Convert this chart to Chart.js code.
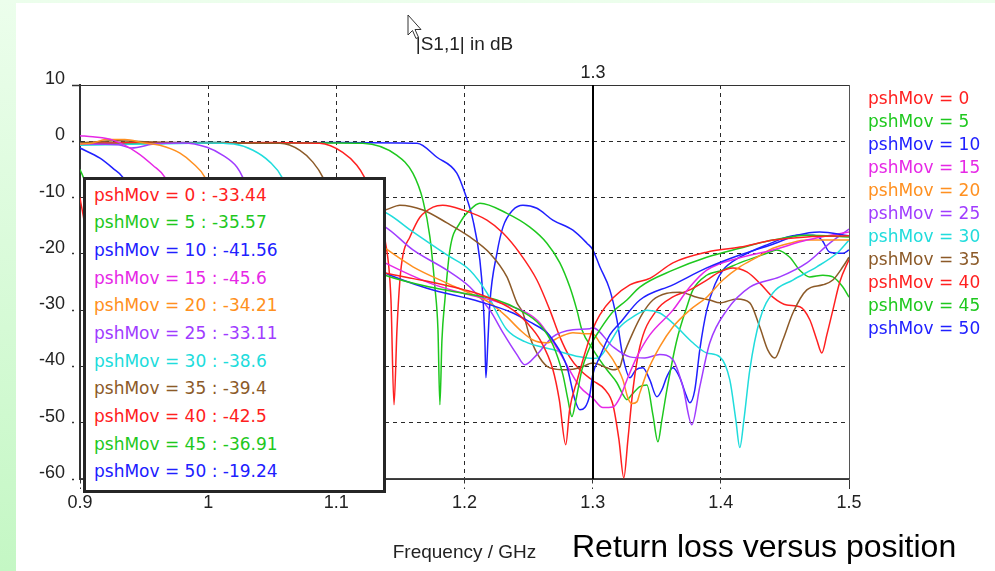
<!DOCTYPE html>
<html>
<head>
<meta charset="utf-8">
<script src="https://cdn.jsdelivr.net/npm/chart.js@4.4.1/dist/chart.umd.min.js"></script>
<style>
html,body{margin:0;padding:0;}
body{width:995px;height:571px;overflow:hidden;position:relative;background:linear-gradient(180deg,#ecfeec 0%,#c4f7c4 100%);}
#sheet{position:absolute;left:16px;top:3px;width:979px;height:568px;background:#fff;}
#c{position:absolute;left:0;top:0;}
#vals{position:absolute;left:83px;top:177px;width:303px;height:316px;box-sizing:border-box;border:3px solid #262626;background:#fff;padding:1.5px 0 0 8px;font-family:"DejaVu Sans";font-size:17px;}
#vals div{height:27.7px;line-height:27.7px;white-space:nowrap;}
#caption{position:absolute;left:572px;top:530px;font-family:"Liberation Sans";font-size:32px;line-height:32px;color:#000;white-space:nowrap;}
#pointer{position:absolute;left:407px;top:14px;}
</style>
</head>
<body>
<div id="sheet"></div>
<canvas id="c" width="995" height="571"></canvas>
<div id="vals"></div>
<div id="caption">Return loss versus position</div>
<svg id="pointer" width="16" height="28" viewBox="0 0 16 28"><path d="M1 1 L1 21 L5.5 16.5 L9 24.5 L11.5 23.3 L8 15.5 L14 15.5 Z" fill="#fff" stroke="#333" stroke-width="1"/></svg>
<script>
// ---------- data ----------
const chartTitle = '|S1,1| in dB';
const xTitle = 'Frequency / GHz';
const pshMov = [0, 5, 10, 15, 20, 25, 30, 35, 40, 45, 50];
const cursorFreq = 1.3;
const cursorLabel = '1.3';
const cursorValues = ['-33.44', '-35.57', '-41.56', '-45.6', '-34.21', '-33.11', '-38.6', '-39.4', '-42.5', '-36.91', '-19.24'];
const xTickValues = [0.9, 1.0, 1.1, 1.2, 1.3, 1.4, 1.5];
const xTickLabels = ['0.9', '1', '1.1', '1.2', '1.3', '1.4', '1.5'];
const yTickValues = [-60, -50, -40, -30, -20, -10, 0, 10];
const yTickLabels = ['-60', '-50', '-40', '-30', '-20', '-10', '0', '10'];

const freq_0 = [0.9, 0.905, 0.91, 0.915, 0.93, 0.96, 1.0, 1.05, 1.1, 1.138, 1.16, 1.18, 1.2, 1.218, 1.238, 1.249, 1.259, 1.269, 1.274, 1.279, 1.282, 1.288, 1.2955, 1.3, 1.3056, 1.316, 1.329, 1.345, 1.3626, 1.389, 1.415, 1.441, 1.467, 1.5];
const s11_0 = [-10, -18, -40, -18, -12, -11.5, -14, -18, -21.5, -23.4, -24.4, -25.3, -26.4, -27.7, -30, -32.3, -35.3, -40.6, -46, -53.9, -47.7, -42.4, -36.5, -33.44, -30.85, -27.8, -25.5, -24.3, -21.6, -19.7, -18.8, -17.55, -17.0, -16.8];

const freq_5 = [0.9, 0.905, 0.915, 0.925, 0.935, 0.95, 0.98, 1.02, 1.07, 1.1, 1.138, 1.173, 1.1988, 1.2253, 1.2432, 1.2588, 1.269, 1.2768, 1.2807, 1.2838, 1.287, 1.2916, 1.2963, 1.3, 1.3056, 1.3158, 1.3267, 1.3368, 1.3626, 1.389, 1.4148, 1.4406, 1.4671, 1.5];
const s11_5 = [-5, -8, -20, -45, -20, -13, -11.5, -13, -17, -20, -23.8, -25.9, -27, -28.2, -30, -32.6, -36.2, -41.5, -45.9, -48.9, -45.9, -40.6, -37.4, -35.57, -33.5, -30.3, -28.2, -25.9, -22.9, -20.6, -19, -17.55, -16.7, -17];

const freq_10 = [0.9, 0.9156, 0.9257, 0.9335, 0.945, 0.955, 0.96, 0.965, 0.98, 1.01, 1.05, 1.1, 1.138, 1.1707, 1.212, 1.2378, 1.251, 1.2643, 1.2689, 1.28, 1.2861, 1.29, 1.2939, 1.2978, 1.3, 1.3056, 1.3134, 1.3212, 1.3368, 1.3626, 1.389, 1.4148, 1.4406, 1.4593, 1.4772, 1.5];
const s11_10 = [-1.2, -3, -4.8, -6.4, -12, -25, -42, -25, -14, -12, -14, -19, -23.4, -26.1, -28.5, -30.5, -32.1, -34, -35.3, -40.1, -45.9, -47.7, -47.3, -45, -41.56, -38.3, -34.4, -32.3, -28.2, -25.5, -22.5, -20.2, -18.3, -16.7, -16.1, -16.8];

const freq_15 = [0.9, 0.91, 0.9257, 0.9445, 0.957, 0.9663, 0.975, 0.983, 0.99, 0.995, 1.01, 1.04, 1.08, 1.138, 1.173, 1.1988, 1.2253, 1.2487, 1.2588, 1.2744, 1.29, 1.3, 1.308, 1.3158, 1.3212, 1.3267, 1.3345, 1.3446, 1.3626, 1.3758, 1.389, 1.4148, 1.4406, 1.4671, 1.5];
const s11_15 = [1.0, 0.8, 0.2, -2, -4.3, -6.4, -11, -22, -44, -24, -14, -12, -14.5, -21.6, -25.2, -27, -28.5, -30.5, -32.3, -37.6, -43.6, -45.6, -47.3, -47.2, -45.6, -42.4, -38.3, -34.4, -30, -25.9, -22.9, -20.7, -19.3, -17.55, -16.1];

const freq_20 = [0.9, 0.91, 0.92, 0.935, 0.95, 0.9624, 0.978, 0.988, 0.9975, 1.005, 1.012, 1.018, 1.024, 1.04, 1.07, 1.1, 1.138, 1.1598, 1.1863, 1.2042, 1.2198, 1.2331, 1.2432, 1.2534, 1.2643, 1.2744, 1.2846, 1.2955, 1.3, 1.3056, 1.3158, 1.3236, 1.3275, 1.3306, 1.3345, 1.3368, 1.3423, 1.3524, 1.3626, 1.3758, 1.389, 1.4016, 1.4148, 1.4281, 1.4406, 1.4538, 1.4671, 1.5];
const s11_20 = [-0.5, -0.3, 0.3, 0.3, -0.3, -0.7, -2.1, -3.9, -6.4, -11, -22, -43, -22, -13, -11.5, -13, -19, -22.3, -25.2, -27, -28.7, -31.2, -33.5, -35.3, -35.8, -34.75, -34, -34.2, -34.21, -35.8, -38.8, -42.4, -45.6, -46.6, -46.3, -44.7, -41.1, -36.5, -33, -30, -27.7, -24.65, -22.3, -20.6, -19, -18.1, -17.55, -17.55];

const freq_25 = [0.9, 0.93, 0.94, 0.96, 0.98, 0.999, 1.0115, 1.0225, 1.027, 1.035, 1.042, 1.048, 1.054, 1.07, 1.1, 1.138, 1.1598, 1.1863, 1.2042, 1.2198, 1.23, 1.2409, 1.2471, 1.2565, 1.2689, 1.2846, 1.2978, 1.3, 1.3158, 1.329, 1.3407, 1.3524, 1.3626, 1.3704, 1.3774, 1.3836, 1.3914, 1.4047, 1.4226, 1.446, 1.4671, 1.485, 1.5];
const s11_25 = [-0.5, -0.6, -1.2, -0.4, -0.3, -1.06, -2.5, -4.6, -6.4, -11, -22, -44, -22, -12.5, -12, -15.2, -19.3, -22.9, -25.9, -30, -34, -37.9, -39.7, -37.9, -34.75, -33.5, -33.3, -33.11, -36.5, -38.3, -38.5, -37.9, -38.8, -43.6, -50.35, -43.6, -35.8, -30, -25.9, -24.1, -21.6, -18.1, -15.6];

const freq_30 = [0.9, 0.95, 1.0, 1.02, 1.035, 1.0482, 1.0576, 1.065, 1.072, 1.078, 1.084, 1.1, 1.12, 1.138, 1.1598, 1.1863, 1.2042, 1.2175, 1.2253, 1.2331, 1.2471, 1.2689, 1.29, 1.3, 1.3056, 1.3134, 1.3212, 1.3314, 1.3423, 1.3524, 1.3626, 1.3782, 1.389, 1.3992, 1.407, 1.4117, 1.4148, 1.418, 1.4226, 1.4304, 1.4406, 1.4562, 1.4749, 1.4905, 1.5];
const s11_30 = [-0.7, -0.5, -0.3, -0.5, -1.6, -3.7, -6.4, -11, -22, -44, -22, -13, -11.5, -12.6, -16.1, -20.2, -22.9, -26.95, -30.5, -33.5, -35.6, -37, -38.3, -38.6, -38.3, -35.8, -33, -31.2, -30, -30.5, -32.3, -35.8, -37.6, -38.3, -42.4, -49.5, -54.4, -49.5, -40.6, -31.7, -26.95, -24.65, -22.3, -19.9, -17.55];

const freq_35 = [0.9, 0.93, 0.95, 1.0, 1.056, 1.0716, 1.0817, 1.0895, 1.097, 1.103, 1.108, 1.113, 1.125, 1.138, 1.1496, 1.1676, 1.1863, 1.2042, 1.2198, 1.2331, 1.2409, 1.2456, 1.251, 1.2588, 1.2666, 1.28, 1.29, 1.3, 1.3111, 1.3158, 1.3212, 1.3236, 1.3314, 1.3392, 1.347, 1.3579, 1.368, 1.3813, 1.3914, 1.3992, 1.4125, 1.4226, 1.4304, 1.4367, 1.4421, 1.4484, 1.4562, 1.4671, 1.4796, 1.4874, 1.4952, 1.5];
const s11_35 = [-0.3, 0.1, -0.1, -0.3, -0.35, -1.6, -3.7, -6.4, -11, -22, -44, -22, -13, -12.2, -11.35, -12.2, -14.5, -17, -19.9, -24.1, -28.7, -30.5, -34.75, -38.5, -40.25, -40.6, -40.25, -39.4, -40.25, -40.6, -40.1, -38.3, -34, -30.5, -28.2, -27, -26.8, -27.7, -28.2, -28.7, -28, -28.7, -33, -37.1, -38.5, -35.3, -30.5, -26.4, -25.5, -24.65, -22.3, -20.6];

const freq_40 = [0.9, 0.95, 1.0, 1.05, 1.075, 1.087, 1.105, 1.116, 1.122, 1.13, 1.138, 1.1426, 1.145, 1.1473, 1.1496, 1.152, 1.1574, 1.1652, 1.1754, 1.183, 1.1988, 1.2175, 1.23, 1.2432, 1.2565, 1.2666, 1.2744, 1.282, 1.29, 1.3, 1.3095, 1.3158, 1.3205, 1.3243, 1.3275, 1.3314, 1.3368, 1.35, 1.3626, 1.3758, 1.389, 1.3992, 1.4094, 1.4203, 1.4304, 1.4406, 1.4515, 1.4616, 1.4694, 1.4749, 1.4788, 1.4827, 1.4874, 1.4928, 1.5];
const s11_40 = [-0.4, -0.2, -0.3, -0.2, -0.3, -0.35, -1.95, -4.26, -6.4, -10.5, -17.5, -28, -46.8, -33.5, -24.7, -20.2, -17, -13.5, -11.7, -11.35, -12.2, -14, -16.3, -19.9, -24.65, -30, -34.75, -38.3, -40.6, -42.5, -44.1, -46.8, -53, -59.8, -53, -44.15, -36.5, -30, -27.66, -26.4, -24.65, -23.2, -22.5, -23.2, -25.2, -27.7, -29.1, -29.4, -31.7, -35.3, -37.6, -34.4, -30, -25, -21];

const freq_45 = [0.9, 0.95, 1.0, 1.05, 1.1, 1.1207, 1.1473, 1.1598, 1.1676, 1.173, 1.1769, 1.1793, 1.1808, 1.1824, 1.1847, 1.1886, 1.1964, 1.2042, 1.212, 1.2331, 1.251, 1.2643, 1.2744, 1.2822, 1.2877, 1.2916, 1.3, 1.3111, 1.3189, 1.3236, 1.3267, 1.3306, 1.3368, 1.3423, 1.347, 1.3509, 1.354, 1.3579, 1.3657, 1.3735, 1.3782, 1.389, 1.4016, 1.4148, 1.4359, 1.4437, 1.4538, 1.4616, 1.4694, 1.4796, 1.4874, 1.4952, 1.5];
const s11_45 = [-0.3, -0.4, -0.2, -0.3, -0.3, -0.35, -2.5, -5.7, -10.5, -17, -25.9, -33.5, -46.8, -35.3, -28.2, -19.3, -14.5, -12.2, -11, -12.8, -15.25, -18.1, -21.6, -25.9, -30, -33.5, -36.91, -40.6, -42.9, -45, -45.9, -45, -43.6, -43.3, -48.6, -53.4, -49.5, -44.15, -35.3, -29.4, -26.4, -23.8, -22.9, -21.6, -19.9, -19.3, -20.6, -22.9, -24.1, -23.8, -24.1, -25.9, -27.7];

const freq_50 = [0.9, 0.95, 1.0, 1.05, 1.1, 1.15, 1.163, 1.1785, 1.194, 1.2003, 1.2066, 1.212, 1.2144, 1.2159, 1.2167, 1.2183, 1.2198, 1.2253, 1.23, 1.2378, 1.2456, 1.2565, 1.2689, 1.2846, 1.2955, 1.3, 1.3056, 1.3134, 1.3189, 1.3236, 1.329, 1.3337, 1.3392, 1.3446, 1.3501, 1.354, 1.3579, 1.3626, 1.368, 1.3727, 1.3758, 1.3797, 1.3836, 1.389, 1.3953, 1.4016, 1.4148, 1.4359, 1.4593, 1.4718, 1.4788, 1.485, 1.4952, 1.5];
const s11_50 = [-0.4, -0.3, -0.2, -0.3, -0.2, -0.3, -0.35, -2.84, -5.67, -9.2, -14, -21.1, -27.7, -35.3, -42, -35.3, -28.7, -19.9, -15.25, -12.2, -11.35, -11.9, -14, -15.8, -18.1, -19.24, -22.3, -26.4, -31.7, -38.3, -42, -40.6, -40.25, -42.4, -45.4, -44.15, -41.8, -40.25, -42, -45, -46.45, -44.15, -37, -30, -25.5, -22.9, -20.6, -18.4, -16.7, -16.7, -17.55, -19.7, -19.9, -19.3];

// ---------- styles ----------
const seriesColors = ['#ff2020', '#1ec81e', '#2020ff', '#e628e6', '#ff9020', '#a03cff', '#20dcdc', '#8c5a28', '#ff2020', '#1ec81e', '#2020ff'];
const FONT_TICK = {family: 'Liberation Sans', size: 18};
const FONT_LEG = {family: 'DejaVu Sans', size: 17};

const freqs = [freq_0, freq_5, freq_10, freq_15, freq_20, freq_25, freq_30, freq_35, freq_40, freq_45, freq_50];
const values = [s11_0, s11_5, s11_10, s11_15, s11_20, s11_25, s11_30, s11_35, s11_40, s11_45, s11_50];
const labels = pshMov.map(p => 'pshMov = ' + p);

// inner value box (cursor readout)
const box = document.getElementById('vals');
pshMov.forEach((p, i) => {
  const d = document.createElement('div');
  d.textContent = 'pshMov = ' + p + ' : ' + cursorValues[i];
  d.style.color = seriesColors[i];
  box.appendChild(d);
});

// legend width -> right padding so plot right edge lands at 849
const mctx = document.createElement('canvas').getContext('2d');
mctx.font = FONT_LEG.size + 'px "' + FONT_LEG.family + '"';
const maxW = Math.max(...labels.map(t => mctx.measureText(t).width));
const LEG_PAD = 3, LEG_BOXW = 7.5;
const legendW = LEG_PAD + LEG_BOXW + FONT_LEG.size / 2 + maxW + 10;
const padRight = Math.max(0, 995 - 849 - legendW);

const near = (a, b) => Math.abs(a - b) < 1e-6;

const cursorPlugin = {
  id: 'cursorLine',
  afterDatasetsDraw(chart) {
    const {ctx, chartArea, scales} = chart;
    const px = Math.round(scales.x.getPixelForValue(cursorFreq));
    ctx.save();
    ctx.strokeStyle = '#000';
    ctx.lineWidth = 2;
    ctx.beginPath();
    ctx.moveTo(px, chartArea.top);
    ctx.lineTo(px, chartArea.bottom);
    ctx.stroke();
    ctx.fillStyle = '#222';
    ctx.font = FONT_TICK.size + 'px "' + FONT_TICK.family + '"';
    ctx.textAlign = 'center';
    ctx.textBaseline = 'middle';
    ctx.fillText(cursorLabel, px, chartArea.top - 12);
    ctx.restore();
  }
};

new Chart(document.getElementById('c').getContext('2d'), {
  type: 'line',
  data: {
    datasets: values.map((v, i) => ({
      label: labels[i],
      data: v.map((y, j) => ({x: freqs[i][j], y: y})),
      borderColor: seriesColors[i],
      backgroundColor: seriesColors[i],
      borderWidth: 1.5,
      pointRadius: 0,
      cubicInterpolationMode: 'monotone',
      fill: false
    }))
  },
  options: {
    responsive: false,
    animation: false,
    devicePixelRatio: 1,
    events: [],
    layout: {padding: {left: 0, top: 0, right: padRight, bottom: 0}},
    scales: {
      x: {
        type: 'linear', min: 0.9, max: 1.5,
        afterBuildTicks: s => { s.ticks = xTickValues.map(v => ({value: v})); },
        afterFit: s => { s.height = 92; },
        ticks: {callback: (v, i) => xTickLabels[i], font: FONT_TICK, color: '#222', padding: 3, maxRotation: 0, autoSkip: false},
        grid: {
          color: c => (c.tick && near(c.tick.value, cursorFreq)) ? 'rgba(0,0,0,0)' : (c.tick && near(c.tick.value, 1.5) ? '#555' : '#2a2a2a'),
          lineWidth: 1, tickLength: 10, tickWidth: 1,
          tickColor: '#333',
          tickBorderDash: c => (c.tick && near(c.tick.value, 1.5)) ? [] : [4, 4]
        },
        border: {color: '#444', width: 1.5, dash: c => (c.tick && (near(c.tick.value, 0.9) || near(c.tick.value, 1.5))) ? [] : [4, 4]},
        title: {display: true, text: xTitle, font: {family: 'Liberation Sans', size: 19}, color: '#222', padding: {top: 0, bottom: 7}}
      },
      y: {
        type: 'linear', min: -60, max: 10,
        afterBuildTicks: s => { s.ticks = yTickValues.map(v => ({value: v})); },
        afterFit: s => { s.width = 80; },
        ticks: {callback: (v, i) => yTickLabels[i], font: FONT_TICK, color: '#222', padding: 7, labelOffset: -6},
        grid: {
          color: c => (c.tick && c.tick.value === 10) ? '#333' : '#2a2a2a',
          lineWidth: 1, tickLength: 8, tickWidth: 1.5,
          tickColor: '#333',
          tickBorderDash: c => (c.tick && c.tick.value === 10) ? [] : [2, 10]
        },
        border: {color: '#333', width: 2, dash: c => (c.tick && (c.tick.value === 10 || c.tick.value === -60)) ? [] : [4, 4]}
      }
    },
    plugins: {
      title: {
        display: true, text: chartTitle, fullSize: false,
        font: {family: 'Liberation Sans', size: 19, weight: 'normal', lineHeight: 1.2},
        color: '#222', padding: {top: 33, bottom: 29.2}
      },
      legend: {
        display: true, position: 'right', align: 'start', fullSize: false,
        title: {display: true, text: '', font: {size: 2, lineHeight: 1}, padding: 0},
        labels: {
          boxWidth: LEG_BOXW, boxHeight: 20, padding: LEG_PAD, font: FONT_LEG,
          generateLabels: chart => chart.data.datasets.map((d, i) => ({
            text: d.label, fontColor: seriesColors[i],
            fillStyle: 'rgba(0,0,0,0)', strokeStyle: 'rgba(0,0,0,0)', lineWidth: 0,
            hidden: false, datasetIndex: i
          }))
        }
      },
      tooltip: {enabled: false}
    }
  },
  plugins: [cursorPlugin]
});
</script>
</body>
</html>
